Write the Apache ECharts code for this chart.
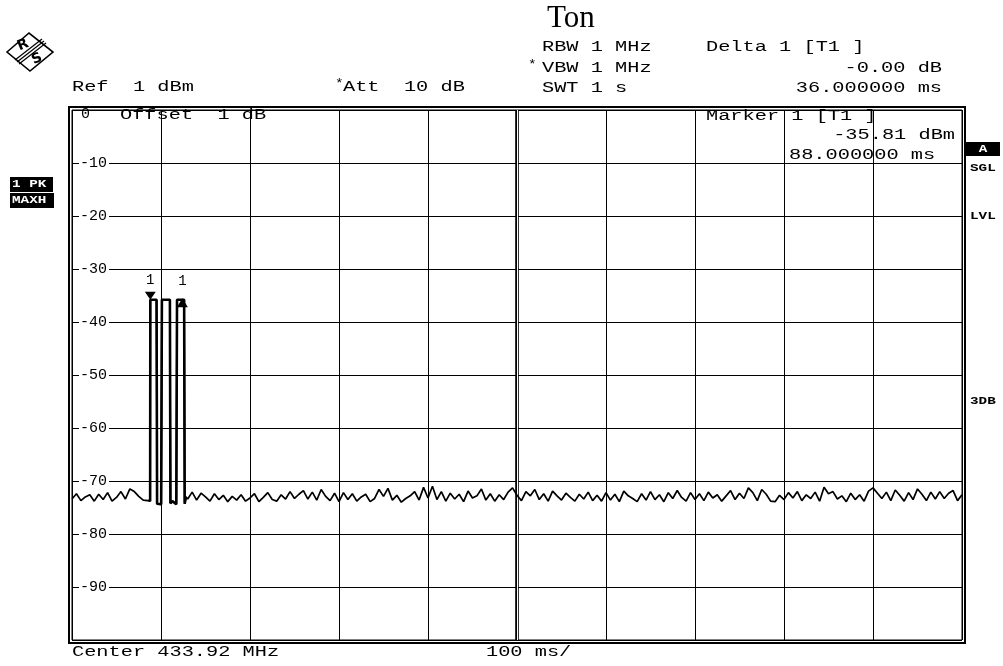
<!DOCTYPE html>
<html><head><meta charset="utf-8">
<script src="https://cdn.jsdelivr.net/npm/echarts@6/dist/echarts.min.js"></script>
<style>html,body{margin:0;padding:0;background:#fff}#c{width:1003px;height:666px}</style>
</head><body><div id="c"></div>
<script>
// ---- data (sweep time in ms, level in dBm) ----
const sweepStartMs = 0, sweepEndMs = 1000, sweepDivMs = 100;
const levelMin = -100, levelMax = 0, levelDiv = 10;
const noiseStepMs = 5;
const noiseBeforeStartMs = 0;
const noiseBeforeDbm = [-73.4,-72.4,-73.7,-73.0,-72.6,-73.8,-72.5,-73.5,-72.2,-73.8,-73.1,-72.0,-73.4,-71.5,-72.0,-72.9,-73.6,-73.7];
const pulseTimesMs = [87, 87.8, 88, 95, 95.6, 97, 100.2, 101, 110, 110.6, 113, 117.2, 118, 126, 126.6, 128];
const pulseLevelsDbm = [-73.4,-73.8,-35.81,-35.81,-74.3,-74.0,-74.4,-35.81,-35.81,-74.2,-73.8,-74.4,-35.81,-35.81,-74.3,-73.0];
const noiseAfterStartMs = 130;
const noiseAfterDbm = [
-73.4,-72.1,-73.6,-72.3,-73.0,-73.8,-72.4,-73.5,-72.7,-73.9,-72.9,-73.6,-72.6,-73.8,
-73.2,-72.4,-73.9,-73.1,-72.2,-73.5,-73.8,-72.6,-73.4,-72.0,-73.3,-72.5,-71.8,-73.4,-72.1,-73.6,-71.6,-72.9,-73.7,-72.3,
-73.9,-72.2,-73.5,-72.4,-73.8,-73.0,-72.5,-73.9,-73.3,-71.6,-72.9,-71.4,-73.6,-72.7,-74.0,-73.3,-72.8,-72.0,-73.6,-71.2,
-73.2,-71.0,-73.5,-72.0,-73.8,-72.3,-73.4,-72.5,-73.9,-71.9,-73.2,-72.8,-71.5,-73.6,-72.4,-73.8,-72.6,-73.5,-72.1,-71.3,
-72.7,-73.7,-72.0,-72.8,-71.6,-73.5,-72.4,-73.8,-71.9,-72.8,-73.6,-72.3,-73.1,-73.8,-72.5,-73.4,-72.1,-73.7,-72.7,-73.8,
-72.2,-73.6,-72.5,-73.9,-71.9,-72.8,-73.3,-73.9,-72.4,-73.6,-72.0,-73.5,-72.6,-73.9,-72.2,-73.3,-71.8,-73.1,-73.8,-72.2,
-73.5,-72.4,-73.7,-72.1,-73.2,-72.6,-73.8,-72.8,-71.8,-73.5,-72.3,-73.3,-71.3,-72.2,-73.7,-71.6,-72.5,-73.8,-73.9,-72.7,
-73.5,-72.2,-73.2,-72.0,-73.7,-72.6,-73.3,-72.1,-73.8,-71.2,-72.4,-72.0,-73.4,-72.8,-73.9,-72.3,-73.5,-72.6,-73.8,-71.9,
-71.3,-72.3,-73.3,-72.1,-73.7,-71.7,-72.7,-73.8,-72.2,-73.5,-71.5,-72.5,-73.7,-72.1,-73.4,-72.0,-73.3,-72.3,-71.8,-73.7,-72.6];
const marker1 = {timeMs: 88, levelDbm: -35.81, label: '1'};
const delta1 = {timeMs: 124, levelDbm: -35.81, label: '1'};
const centerDivMs = 500;

// ---- build trace from arrays ----
const trace = [];
noiseBeforeDbm.forEach((v, i) => trace.push([noiseBeforeStartMs + i * noiseStepMs, v]));
const pulseTrace = pulseTimesMs.map((t, i) => [t, pulseLevelsDbm[i]]);
pulseTrace.forEach(p => trace.push(p));
noiseAfterDbm.forEach((v, i) => trace.push([noiseAfterStartMs + i * noiseStepMs, v]));

const MONO = '"Liberation Mono", "DejaVu Sans Mono", monospace';
function txt(x, y, text, align, opts) {
  opts = opts || {};
  return {
    type: 'text', x: x, y: y, scaleX: opts.scaleX || 1.45, silent: true, z: 100,
    style: {
      text: text, x: 0, y: 0, fill: opts.fill || '#000',
      font: (opts.weight || 'normal') + ' ' + (opts.size || 14) + 'px ' + MONO,
      align: align || 'left', verticalAlign: 'middle'
    }
  };
}

const graphics = [
  // outer frame (double border)
  {type: 'rect', shape: {x: 69, y: 107, width: 896, height: 536}, style: {fill: 'none', stroke: '#000', lineWidth: 2}, silent: true, z: 50},
  // R&S logo
  {type: 'polygon', shape: {points: [[7, 52], [29, 33], [53, 52], [30, 71]]}, style: {fill: '#fff', stroke: '#000', lineWidth: 1.6}, silent: true},
  {type: 'line', shape: {x1: 42, y1: 39, x2: 15, y2: 60}, style: {stroke: '#000', lineWidth: 1.2}, silent: true},
  {type: 'line', shape: {x1: 44, y1: 41, x2: 17, y2: 62}, style: {stroke: '#000', lineWidth: 1.2}, silent: true},
  {type: 'line', shape: {x1: 46, y1: 43, x2: 19, y2: 64}, style: {stroke: '#000', lineWidth: 1.2}, silent: true},
  {type: 'text', x: 23, y: 45, rotation: 0.4, silent: true, style: {text: 'R', x: 0, y: 0, fill: '#000', font: 'bold 14px "DejaVu Sans"', align: 'center', verticalAlign: 'middle'}},
  {type: 'text', x: 37, y: 59, rotation: 0.4, silent: true, style: {text: 'S', x: 0, y: 0, fill: '#000', font: 'bold 14px "DejaVu Sans"', align: 'center', verticalAlign: 'middle'}},
  // header
  txt(72, 87, 'Ref  1 dBm'),
  txt(335, 84, '*', 'left', {size: 12, scaleX: 1.2}),
  txt(343, 87, 'Att  10 dB'),
  txt(542, 47, 'RBW 1 MHz'),
  txt(528, 65, '*', 'left', {size: 12, scaleX: 1.2}),
  txt(542, 68, 'VBW 1 MHz'),
  txt(542, 88, 'SWT 1 s'),
  txt(706, 47, 'Delta 1 [T1 ]'),
  txt(942, 68, '-0.00 dB', 'right'),
  txt(942, 88, '36.000000 ms', 'right'),
  // inside plot annotations
  txt(120, 115, 'Offset  1 dB'),
  txt(706, 116, 'Marker 1 [T1 ]'),
  txt(955, 135, '-35.81 dBm', 'right'),
  txt(789, 155, '88.000000 ms'),
  // footer
  txt(72, 652, 'Center 433.92 MHz'),
  txt(486, 652, '100 ms/'),
  // side status boxes
  {type: 'rect', shape: {x: 966, y: 142, width: 34, height: 14}, style: {fill: '#000'}, silent: true},
  txt(983, 149, 'A', 'center', {fill: '#fff', weight: 'bold', size: 11, scaleX: 1.3}),
  txt(970, 168, 'SGL', 'left', {weight: 'bold', size: 11, scaleX: 1.3}),
  txt(970, 216, 'LVL', 'left', {weight: 'bold', size: 11, scaleX: 1.3}),
  txt(970, 401, '3DB', 'left', {weight: 'bold', size: 11, scaleX: 1.3}),
  {type: 'rect', shape: {x: 10, y: 177, width: 43, height: 15}, style: {fill: '#000'}, silent: true},
  txt(12, 184.5, '1 PK', 'left', {fill: '#fff', weight: 'bold', size: 11, scaleX: 1.3}),
  {type: 'rect', shape: {x: 10, y: 193, width: 44, height: 15}, style: {fill: '#000'}, silent: true},
  txt(12, 200.5, 'MAXH', 'left', {fill: '#fff', weight: 'bold', size: 11, scaleX: 1.3})
];

const chart = echarts.init(document.getElementById('c'), null, {renderer: 'canvas'});
chart.setOption({
  animation: false,
  backgroundColor: '#fff',
  title: {
    text: 'Ton', left: 547, top: 3, padding: 0,
    textStyle: {fontFamily: '"Liberation Serif", "Times New Roman", serif', fontSize: 31, fontWeight: 'normal', color: '#000'}
  },
  grid: {left: 72, right: 41, top: 110, bottom: 26, show: true, borderColor: '#000', borderWidth: 1, containLabel: false},
  xAxis: {
    type: 'value', min: sweepStartMs, max: sweepEndMs, interval: sweepDivMs,
    axisLine: {show: false}, axisTick: {show: false}, axisLabel: {show: false},
    splitLine: {show: true, lineStyle: {color: '#000', width: 1}}
  },
  yAxis: {
    type: 'value', min: levelMin, max: levelMax, interval: levelDiv,
    axisLine: {show: false}, axisTick: {show: false},
    splitLine: {show: true, lineStyle: {color: '#000', width: 1}},
    axisLabel: {
      inside: true, margin: 7, showMinLabel: false,
      fontFamily: MONO, fontSize: 15, color: '#000',
      formatter: function (v) { return v === 0 ? '{z|0}' : '{n|' + v + '}'; },
      rich: {
        n: {backgroundColor: '#fff', padding: [0, 2, 0, 1], fontFamily: MONO, fontSize: 15, color: '#000'},
        z: {padding: [9, 0, 0, 2], fontFamily: MONO, fontSize: 15, color: '#000'}
      }
    }
  },
  series: [{
    type: 'line', data: trace, showSymbol: false, silent: true, z: 5,
    lineStyle: {color: '#000', width: 1.7},
    markLine: {
      silent: true, symbol: 'none', label: {show: false},
      data: [
        {xAxis: centerDivMs, lineStyle: {color: '#000', width: 3.6, type: 'solid'}},
        {xAxis: centerDivMs, lineStyle: {color: '#fff', width: 1, type: 'solid'}}
      ]
    },
    markPoint: {
      silent: true,
      data: [
        {coord: [marker1.timeMs, marker1.levelDbm], symbol: 'triangle', symbolRotate: 180, symbolSize: [11, 8], symbolOffset: [0, -4],
         itemStyle: {color: '#000'},
         label: {show: true, formatter: marker1.label, position: 'top', distance: 4, fontFamily: MONO, fontSize: 14, color: '#000'}},
        {coord: [delta1.timeMs, delta1.levelDbm], symbol: 'triangle', symbolSize: [11, 9], symbolOffset: [0, 3],
         itemStyle: {color: '#000'},
         label: {show: true, formatter: delta1.label, position: 'top', distance: 10, fontFamily: MONO, fontSize: 14, color: '#000'}}
      ]
    }
  }, {
    type: 'line', data: pulseTrace, showSymbol: false, silent: true, z: 6,
    lineStyle: {color: '#000', width: 2.6}
  }],
  graphic: graphics
});
</script></body></html>
